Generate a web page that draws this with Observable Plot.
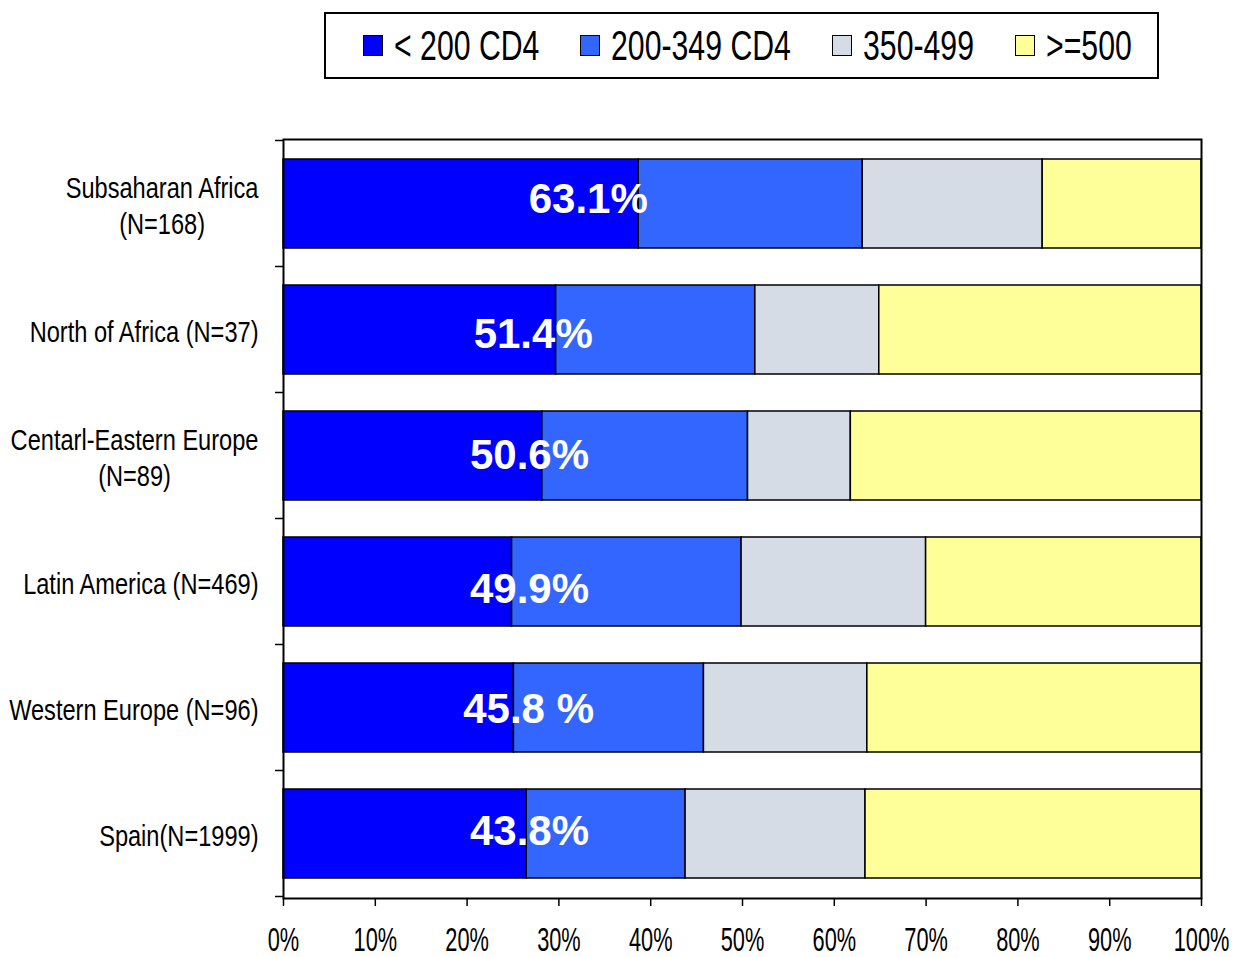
<!DOCTYPE html>
<html>
<head>
<meta charset="utf-8">
<script src="https://cdn.jsdelivr.net/npm/d3@7"></script>
<script src="https://cdn.jsdelivr.net/npm/@observablehq/plot@0.6"></script>
<style>
  body { margin: 0; background: white; font-family: 'Liberation Sans', Arial, sans-serif; }
  #top { position: relative; width: 1239px; height: 100px; }
  #legend { position: absolute; left: 324px; top: 12px; width: 835px; height: 67px; box-sizing: border-box;
            border: 2px solid black; display: flex; align-items: center; padding-left: 37px; }
  .sw { display: inline-block; width: 20px; height: 21px; box-sizing: border-box; border: 1.5px solid black; margin-right: 11px; flex: none; }
  .lt { display: inline-block; font-size: 42px; line-height: 1; transform: scaleX(0.72); transform-origin: left center; white-space: pre; }
  .item { display: flex; align-items: center; margin-right: 41px; }
</style>
</head>
<body>
<div id="top"><div id="legend"></div></div>
<div id="chart"></div>
<script>
// ---- data ----
const categories = [
  "Subsaharan Africa\n(N=168)",
  "North of Africa (N=37)",
  "Centarl-Eastern Europe\n(N=89)",
  "Latin America (N=469)",
  "Western Europe (N=96)",
  "Spain(N=1999)"
];
const series = ["< 200 CD4", "200-349 CD4", "350-499", ">=500"];
const colors = ["#0000FF", "#3366FF", "#D6DCE5", "#FFFF99"];
const lt200   = [38.7, 29.7, 28.2, 24.9, 25.1, 26.5];
const cd200   = [24.4, 21.7, 22.4, 25.0, 20.7, 17.3];
const cd350   = [19.6, 13.5, 11.2, 20.1, 17.8, 19.6];
const ge500   = [17.3, 35.1, 38.2, 30.0, 36.4, 36.6];
const valueLabels = ["63.1%", "51.4%", "50.6%", "49.9%", "45.8 %", "43.8%"];
const labelPos = [33.2, 27.2, 26.8, 26.8, 26.7, 26.8];   // label centre, in % of the x axis
const labelShift = [-3, 6, 1, 9, 3, -1];                 // vertical nudge of each label
const xTicks = [0, 10, 20, 30, 40, 50, 60, 70, 80, 90, 100];

const seriesValues = [lt200, cd200, cd350, ge500];
const data = categories.flatMap((c, i) => seriesValues.map((arr, j) => ({cat: c, series: series[j], value: arr[i]})));

// ---- legend ----
const legend = document.getElementById("legend");
series.forEach((s, j) => {
  const item = document.createElement("div");
  item.className = "item";
  const sw = document.createElement("span");
  sw.className = "sw"; sw.style.background = colors[j];
  const t = document.createElement("span");
  t.className = "lt"; t.textContent = s;
  item.appendChild(sw); item.appendChild(t);
  legend.appendChild(item);
});
legend.querySelectorAll(".lt").forEach(t => {
  t.style.marginRight = (-(t.offsetWidth * (1 - 0.72))) + "px";
});

// ---- chart ----
function bandTicks(index, scales, values, dimensions) {
  const y = scales.y;
  const ys = categories.map(c => y(c));
  const step = ys[1] - ys[0];
  const bw = y.bandwidth ? y.bandwidth() : step * 0.71;
  const bounds = ys.map(v => v + bw / 2 - step / 2);
  bounds.push(ys[ys.length - 1] + bw / 2 + step / 2);
  const g = d3.create("svg:g");
  const x0 = dimensions.marginLeft;
  bounds.forEach(b => {
    g.append("line").attr("x1", x0 - 8).attr("x2", x0).attr("y1", b).attr("y2", b)
      .attr("stroke", "black").attr("stroke-width", 1.5);
  });
  return g.node();
}

const labelMarks = valueLabels.map((l, i) =>
  Plot.text([l], {x: [labelPos[i]], y: [categories[i]], text: d => d, fill: "white", fontWeight: "bold",
                  fontSize: 42, textAnchor: "middle", dy: labelShift[i] - 1}));

const chart = Plot.plot({
  width: 1239,
  height: 857,
  marginTop: 39,
  marginBottom: 59,
  marginLeft: 283,
  marginRight: 38,
  style: {fontFamily: "'Liberation Sans', Arial, sans-serif", background: "white", color: "black", overflow: "visible"},
  x: {domain: [0, 100]},
  y: {domain: categories, paddingInner: 0.29, paddingOuter: 0.145},
  color: {domain: series, range: colors},
  marks: [
    Plot.barX(data, Plot.stackX({y: "cat", x: "value", fill: "series", order: series, stroke: "black", strokeWidth: 1.5})),
    ...labelMarks,
    Plot.frame({stroke: "black", strokeWidth: 2}),
    Plot.axisX({ticks: xTicks, tickFormat: d => d + "%", tickSize: 8, tickPadding: 20, fontSize: 34, label: null, stroke: "black", strokeWidth: 1.5}),
    Plot.axisY({tickSize: 0, tickPadding: 25, fontSize: 29.5, lineHeight: 1.22, label: null}),
    bandTicks
  ]
});
document.getElementById("chart").appendChild(chart);

// condensed look for axis labels
function squeeze(text, s) {
  const t = text.getAttribute("transform");
  if (t) {
    text.setAttribute("transform", t + ` scale(${s},1)`);
  } else {
    const x = +text.getAttribute("x") || 0, y = +text.getAttribute("y") || 0;
    text.removeAttribute("x"); text.removeAttribute("y");
    text.setAttribute("transform", `translate(${x},${y}) scale(${s},1)`);
  }
}
chart.querySelectorAll('g[aria-label="x-axis tick label"] text').forEach(t => squeeze(t, 0.64));
chart.querySelectorAll('g[aria-label="y-axis tick label"] text').forEach(t => {
  const spans = t.querySelectorAll("tspan");
  if (spans.length > 1) {
    const W = d3.max(Array.from(spans), sp => sp.getComputedTextLength());
    t.setAttribute("text-anchor", "middle");
    spans.forEach(sp => sp.setAttribute("x", -W / 2));
  }
  squeeze(t, 0.80);
});
</script>
</body>
</html>
